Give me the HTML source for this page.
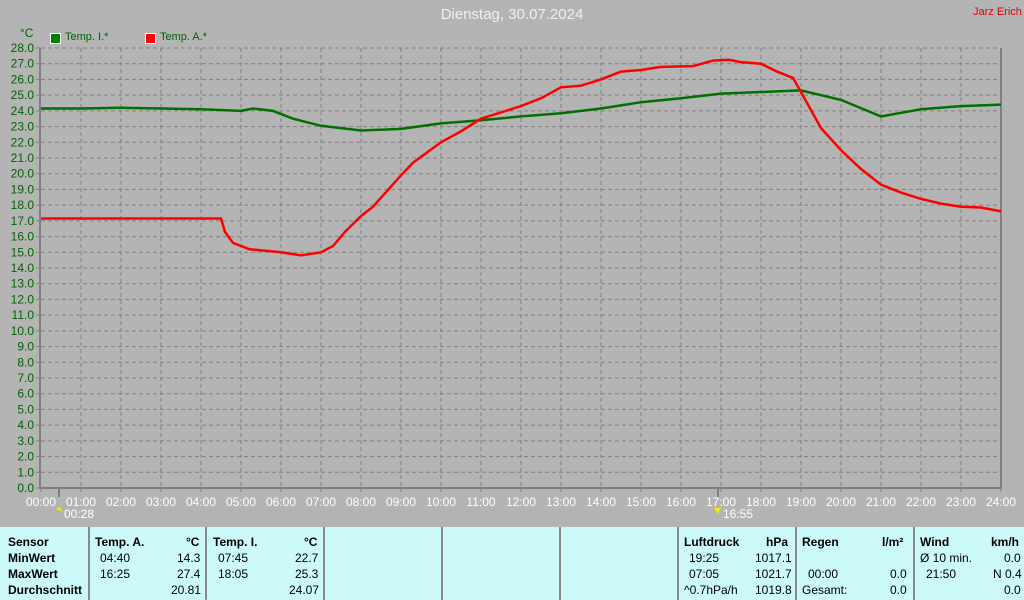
<!DOCTYPE html>
<html><head><meta charset="utf-8">
<style>
body{margin:0;width:1024px;height:600px;background:#b4b4b4;overflow:hidden;font-family:"Liberation Sans",sans-serif;position:relative}
.t{position:absolute;font-size:12px;white-space:nowrap}
#tbl{position:absolute;left:0;top:527px;width:1024px;height:73px;background:#ccfaf8}
.v{position:absolute;top:0;width:2px;height:73px;background:#8a8a8a}
.c{position:absolute;font-size:12px;color:#000;white-space:nowrap}
.b{font-weight:bold}
</style></head><body>
<div class="t" style="left:0;width:1024px;text-align:center;top:6px;font-size:15px;color:#f0f0f0">Dienstag, 30.07.2024</div>
<div class="t" style="left:973px;top:6px;font-size:11px;color:#e00000">Jarz Erich</div>
<div class="t" style="left:20px;top:26px;color:#006400">°C</div>
<div style="position:absolute;left:50px;top:33px;width:9px;height:9px;background:#008000;border:1px solid #fff"></div>
<div class="t" style="left:65px;top:31px;font-size:11px;color:#006400">Temp. I.*</div>
<div style="position:absolute;left:145px;top:33px;width:9px;height:9px;background:#f00;border:1px solid #fff"></div>
<div class="t" style="left:160px;top:31px;font-size:11px;color:#006400">Temp. A.*</div>
<svg id="s" width="1024" height="527" style="position:absolute;left:0;top:0"></svg>
<div id="tbl">
<div class="v" style="left:88px"></div><div class="v" style="left:205px"></div><div class="v" style="left:323px"></div><div class="v" style="left:441px"></div><div class="v" style="left:559px"></div><div class="v" style="left:677px"></div><div class="v" style="left:795px"></div><div class="v" style="left:913px"></div>
<div class="c b" style="left:8px;top:8px">Sensor</div><div class="c b" style="left:8px;top:24px">MinWert</div><div class="c b" style="left:8px;top:40px">MaxWert</div><div class="c b" style="left:8px;top:56px">Durchschnitt</div>
<div class="c b" style="left:95px;top:8px">Temp. A.</div><div class="c b" style="left:186px;top:8px">°C</div>
<div class="c" style="left:100px;top:24px">04:40</div><div class="c" style="left:177px;top:24px">14.3</div>
<div class="c" style="left:100px;top:40px">16:25</div><div class="c" style="left:177px;top:40px">27.4</div>
<div class="c" style="left:171px;top:56px">20.81</div>
<div class="c b" style="left:213px;top:8px">Temp. I.</div><div class="c b" style="left:304px;top:8px">°C</div>
<div class="c" style="left:218px;top:24px">07:45</div><div class="c" style="left:295px;top:24px">22.7</div>
<div class="c" style="left:218px;top:40px">18:05</div><div class="c" style="left:295px;top:40px">25.3</div>
<div class="c" style="left:289px;top:56px">24.07</div>
<div class="c b" style="left:684px;top:8px">Luftdruck</div><div class="c b" style="left:766px;top:8px">hPa</div>
<div class="c" style="left:689px;top:24px">19:25</div><div class="c" style="left:755px;top:24px">1017.1</div>
<div class="c" style="left:689px;top:40px">07:05</div><div class="c" style="left:755px;top:40px">1021.7</div>
<div class="c" style="left:684px;top:56px">^0.7hPa/h</div><div class="c" style="left:755px;top:56px">1019.8</div>
<div class="c b" style="left:802px;top:8px">Regen</div><div class="c b" style="left:882px;top:8px">l/m²</div>
<div class="c" style="left:808px;top:40px">00:00</div><div class="c" style="left:890px;top:40px">0.0</div>
<div class="c" style="left:802px;top:56px">Gesamt:</div><div class="c" style="left:890px;top:56px">0.0</div>
<div class="c b" style="left:920px;top:8px">Wind</div><div class="c b" style="left:991px;top:8px">km/h</div>
<div class="c" style="left:920px;top:24px">Ø 10 min.</div><div class="c" style="left:1004px;top:24px">0.0</div>
<div class="c" style="left:926px;top:40px">21:50</div><div class="c" style="left:993px;top:40px">N 0.4</div>
<div class="c" style="left:1004px;top:56px">0.0</div>
</div>
<script>
var s=document.getElementById('s'),h='';
function X(t){return 41+t*40}function Y(v){return 488-v*440/28}
for(var i=1;i<24;i++)h+='<line x1="'+X(i)+'" y1="48" x2="'+X(i)+'" y2="488" stroke="#808080" stroke-dasharray="4,3"/>';
for(var v=1;v<=28;v++)h+='<line x1="41" y1="'+Y(v)+'" x2="1000" y2="'+Y(v)+'" stroke="#808080" stroke-dasharray="4,3"/>';
for(var v=0;v<=28;v++){h+='<line x1="36" y1="'+Y(v)+'" x2="40" y2="'+Y(v)+'" stroke="#808080"/><text x="34" y="'+(Y(v)+4)+'" text-anchor="end" font-size="12" fill="#006400" font-family="Liberation Sans">'+v+'.0</text>';}
for(var i=0;i<=24;i++){h+='<line x1="'+X(i)+'" y1="488" x2="'+X(i)+'" y2="492" stroke="#808080"/><text x="'+X(i)+'" y="506" text-anchor="middle" font-size="12" fill="#fff" font-family="Liberation Sans">'+(i<10?'0':'')+i+':00</text>';}
h+='<polyline points="40,48 40,488 1001,488 1001,48" fill="none" stroke="#808080" stroke-width="2"/>';
h+='<line x1="59" y1="488" x2="59" y2="497" stroke="#808080" stroke-width="2"/><line x1="718" y1="488" x2="718" y2="497" stroke="#808080" stroke-width="2"/>';
h+='<text x="64" y="518" font-size="12" fill="#fff" font-family="Liberation Sans">00:28</text><text x="723" y="518" font-size="12" fill="#fff" font-family="Liberation Sans">16:55</text>';
h+='<path d="M56 509 l4 -2 l3 5z" fill="#ee0"/><path d="M714 508 l4 6 l3 -6z" fill="#ee0"/>';
var g=[[0,24.15],[1,24.15],[2,24.2],[3,24.15],[4,24.1],[5,24.0],[5.3,24.15],[5.8,24.0],[6.3,23.5],[7,23.05],[8,22.75],[9,22.85],[10,23.2],[11,23.4],[12,23.65],[13,23.85],[14,24.15],[15,24.55],[16,24.8],[17,25.1],[18,25.2],[19,25.3],[20,24.7],[21,23.65],[22,24.1],[23,24.3],[24,24.4]];
var r=[[0,17.15],[4.5,17.15],[4.6,16.3],[4.8,15.6],[5.2,15.2],[6,15.0],[6.5,14.8],[7,15.0],[7.3,15.4],[7.6,16.3],[8,17.3],[8.3,17.9],[9,19.9],[9.3,20.7],[10,22.0],[10.5,22.7],[11,23.5],[11.5,23.9],[12,24.3],[12.5,24.8],[13,25.5],[13.5,25.6],[14,26.0],[14.5,26.5],[15,26.6],[15.5,26.8],[16.3,26.85],[16.8,27.2],[17.2,27.25],[17.5,27.1],[18,27.0],[18.4,26.5],[18.8,26.1],[19,25.2],[19.5,22.9],[20,21.5],[20.5,20.3],[21,19.3],[21.5,18.8],[22,18.4],[22.5,18.1],[23,17.9],[23.5,17.85],[24,17.6]];
function pl(a,c){return '<polyline fill="none" stroke="'+c+'" stroke-width="2.5" points="'+a.map(function(p){return X(p[0]).toFixed(1)+','+Y(p[1]).toFixed(1)}).join(' ')+'"/>';}
h+=pl(g,'#007000')+pl(r,'#ff0000');
s.innerHTML=h;
</script>
</body></html>
